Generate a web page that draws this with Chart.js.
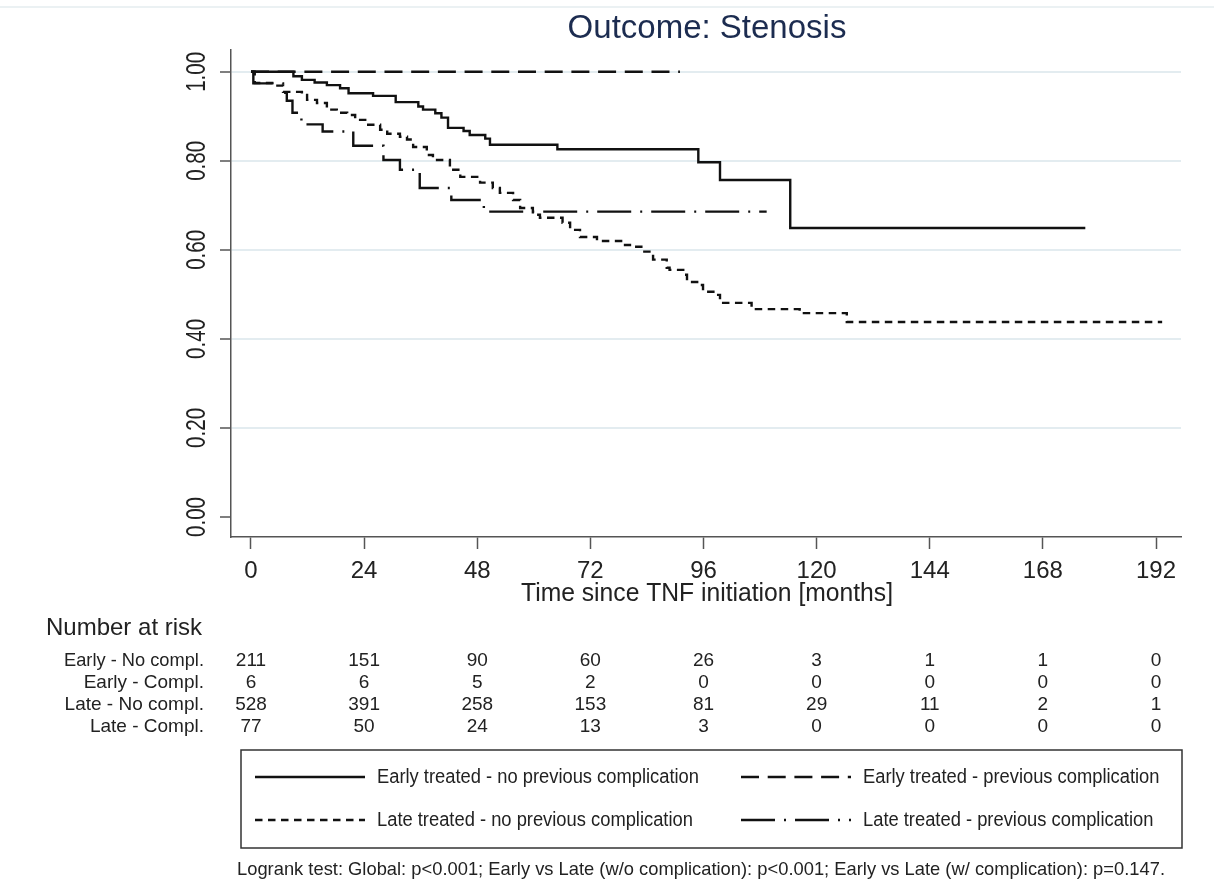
<!DOCTYPE html>
<html>
<head>
<meta charset="utf-8">
<script src="https://cdn.jsdelivr.net/npm/chart.js@4.4.1/dist/chart.umd.min.js"></script>
<style>
  html, body { margin: 0; padding: 0; background: #fff; }
  #wrap { width: 1214px; height: 888px; }
</style>
</head>
<body>
<div id="wrap"><canvas id="kmChart" width="1214" height="888"></canvas></div>
<script>
// ticks
var xTicks = [0, 24, 48, 72, 96, 120, 144, 168, 192];
var yTicks = [0, 0.2, 0.4, 0.6, 0.8, 1.0];

// Kaplan-Meier curves (months, survival)
var earlyNoComplTime = [0, 9.0, 10.8, 13.5, 16.1, 18.9, 20.7, 25.9, 30.7, 35.5, 36.5, 39.1, 40.4, 41.8, 45.1, 46.4, 49.7, 50.7, 65.0, 94.9, 99.5, 114.4, 177.0];
var earlyNoComplSurv = [1.0, 0.990, 0.982, 0.976, 0.970, 0.963, 0.952, 0.946, 0.932, 0.922, 0.915, 0.907, 0.897, 0.874, 0.867, 0.858, 0.850, 0.836, 0.826, 0.797, 0.757, 0.649, 0.649];

var earlyComplTime = [0, 91.0];
var earlyComplSurv = [1.0, 1.0];

var lateNoComplTime = [0, 0.8, 4.5, 6.8, 10.8, 11.9, 14.0, 16.1, 18.2, 20.4, 22.1, 24.6, 27.4, 28.9, 31.6, 33.1, 34.4, 37.3, 38.6, 42.2, 44.4, 48.6, 51.3, 52.8, 55.6, 57.1, 59.8, 61.3, 66.1, 67.7, 69.8, 73.4, 78.9, 80.4, 83.1, 85.3, 88.2, 88.8, 91.7, 92.5, 95.2, 95.9, 98.8, 99.5, 106.2, 116.4, 126.4, 193.3];
var lateNoComplSurv = [1.0, 0.975, 0.969, 0.955, 0.951, 0.937, 0.930, 0.915, 0.908, 0.903, 0.892, 0.881, 0.870, 0.861, 0.854, 0.848, 0.831, 0.813, 0.802, 0.780, 0.764, 0.751, 0.739, 0.728, 0.712, 0.694, 0.679, 0.672, 0.661, 0.645, 0.629, 0.620, 0.611, 0.607, 0.596, 0.578, 0.560, 0.555, 0.544, 0.528, 0.521, 0.506, 0.499, 0.481, 0.467, 0.458, 0.438, 0.438];

var lateComplTime = [0, 0.5, 6.8, 7.6, 8.8, 10.7, 15.2, 21.7, 28.1, 31.6, 35.8, 42.5, 49.4, 109.4];
var lateComplSurv = [1.0, 0.974, 0.953, 0.935, 0.908, 0.882, 0.866, 0.834, 0.802, 0.780, 0.739, 0.712, 0.686, 0.686];

var seriesNames = [
    'Early treated - no previous complication',
    'Early treated - previous complication',
    'Late treated - no previous complication',
    'Late treated - previous complication'
];

// number at risk table
var riskLabels = ['Early - No compl.', 'Early - Compl.', 'Late - No compl.', 'Late - Compl.'];
var riskEarlyNoCompl = [211, 151, 90, 60, 26, 3, 1, 1, 0];
var riskEarlyCompl = [6, 6, 5, 2, 0, 0, 0, 0, 0];
var riskLateNoCompl = [528, 391, 258, 153, 81, 29, 11, 2, 1];
var riskLateCompl = [77, 50, 24, 13, 3, 0, 0, 0, 0];

var footNote = 'Logrank test: Global: p<0.001; Early vs Late (w/o complication): p<0.001; Early vs Late (w/ complication): p=0.147.';

var FONT = "'Liberation Sans', Arial, sans-serif";

function pts(t, s) {
    return t.map(function (v, i) { return { x: v, y: s[i] }; });
}

function curve(label, t, s, dash) {
    return {
        label: label,
        data: pts(t, s),
        borderColor: '#111',
        borderWidth: 2.4,
        borderDash: dash,
        stepped: true,
        pointRadius: 0,
        fill: false
    };
}

// text squeezed horizontally by factor k (the original uses a narrow face)
function narrowText(ctx, text, x, y, k) {
    ctx.save();
    ctx.translate(x, y);
    ctx.scale(k, 1);
    ctx.fillText(text, 0, 0);
    ctx.restore();
}

var extrasPlugin = {
    id: 'extras',
    afterDraw: function (chart) {
        var ctx = chart.ctx;
        var xs = chart.scales.x;
        var ys = chart.scales.y;
        ctx.save();

        // faint frame line at top
        ctx.strokeStyle = '#e4edef';
        ctx.lineWidth = 1.5;
        ctx.beginPath();
        ctx.moveTo(0, 7);
        ctx.lineTo(1214, 7);
        ctx.stroke();

        // title
        ctx.fillStyle = '#1c2c50';
        ctx.font = '33px ' + FONT;
        ctx.textAlign = 'center';
        ctx.textBaseline = 'middle';
        ctx.fillText('Outcome: Stenosis', 707, 29);

        // y tick labels, rotated
        ctx.fillStyle = '#222';
        ctx.font = '27px ' + FONT;
        yTicks.forEach(function (v) {
            ctx.save();
            ctx.translate(198, ys.getPixelForValue(v));
            ctx.rotate(-Math.PI / 2);
            ctx.fillText(v.toFixed(2), 0, 0, 40);
            ctx.restore();
        });

        // x tick labels
        ctx.font = '24px ' + FONT;
        xTicks.forEach(function (v) {
            ctx.fillText(String(v), xs.getPixelForValue(v), 571);
        });

        // x axis title
        ctx.font = '25px ' + FONT;
        ctx.fillText('Time since TNF initiation [months]', 707, 594, 372);

        // number at risk
        ctx.textAlign = 'left';
        ctx.font = '24px ' + FONT;
        ctx.fillText('Number at risk', 46, 628, 158);

        var rows = [riskEarlyNoCompl, riskEarlyCompl, riskLateNoCompl, riskLateCompl];
        var rowY = [661, 683, 705, 727];
        ctx.font = '19px ' + FONT;
        rows.forEach(function (row, r) {
            ctx.textAlign = 'right';
            ctx.fillText(riskLabels[r], 204, rowY[r], 140);
            ctx.textAlign = 'center';
            row.forEach(function (n, i) {
                ctx.fillText(String(n), xs.getPixelForValue(xTicks[i]), rowY[r]);
            });
        });

        // legend box
        ctx.strokeStyle = '#333';
        ctx.lineWidth = 1.5;
        ctx.strokeRect(241, 750, 941, 98);

        var slots = [
            { x: 255, y: 777 }, { x: 741, y: 777 },
            { x: 255, y: 820 }, { x: 741, y: 820 }
        ];
        ctx.textAlign = 'left';
        ctx.font = '20px ' + FONT;
        var k = 322 / ctx.measureText(seriesNames[0]).width;
        chart.data.datasets.forEach(function (ds, i) {
            var s = slots[i];
            ctx.strokeStyle = ds.borderColor;
            ctx.lineWidth = ds.borderWidth;
            ctx.setLineDash(ds.borderDash);
            ctx.beginPath();
            ctx.moveTo(s.x, s.y);
            ctx.lineTo(s.x + 110, s.y);
            ctx.stroke();
            ctx.setLineDash([]);
            ctx.fillStyle = '#222';
            narrowText(ctx, ds.label, s.x + 122, s.y, k);
        });

        // footnote
        ctx.font = '19px ' + FONT;
        ctx.fillText(footNote, 237, 870, 928);

        ctx.restore();
    }
};

var ctx = document.getElementById('kmChart').getContext('2d');
var kmChart = new Chart(ctx, {
    type: 'line',
    data: {
        datasets: [
            curve(seriesNames[0], earlyNoComplTime, earlyNoComplSurv, []),
            curve(seriesNames[1], earlyComplTime, earlyComplSurv, [18, 8.7]),
            curve(seriesNames[2], lateNoComplTime, lateNoComplSurv, [7.5, 5.5]),
            curve(seriesNames[3], lateComplTime, lateComplSurv, [34, 9, 2, 9])
        ]
    },
    options: {
        responsive: false,
        animation: false,
        layout: {
            padding: { left: 231, right: 33, top: 50, bottom: 351 }
        },
        scales: {
            x: {
                type: 'linear',
                min: -4.24,
                max: 197.3,
                afterFit: function (scale) { scale.height = 0; },
                afterBuildTicks: function (scale) {
                    scale.ticks = xTicks.map(function (v) { return { value: v }; });
                },
                ticks: { display: false },
                grid: {
                    drawOnChartArea: false,
                    drawTicks: true,
                    tickLength: 12,
                    tickColor: '#555',
                    tickWidth: 1.5
                },
                border: { display: true, color: '#555', width: 1.5 }
            },
            y: {
                min: -0.045,
                max: 1.049,
                afterFit: function (scale) { scale.width = 0; },
                afterBuildTicks: function (scale) {
                    scale.ticks = yTicks.map(function (v) { return { value: v }; });
                },
                ticks: { display: false },
                grid: {
                    color: function (c) { return c.tick && c.tick.value === 0 ? 'rgba(0,0,0,0)' : '#e3ecf0'; },
                    lineWidth: 2,
                    drawTicks: true,
                    tickLength: 11,
                    tickColor: '#555',
                    tickWidth: 1.5
                },
                border: { display: true, color: '#555', width: 1.5 }
            }
        },
        plugins: {
            legend: { display: false },
            tooltip: { enabled: false }
        }
    },
    plugins: [extrasPlugin]
});
</script>
</body>
</html>
